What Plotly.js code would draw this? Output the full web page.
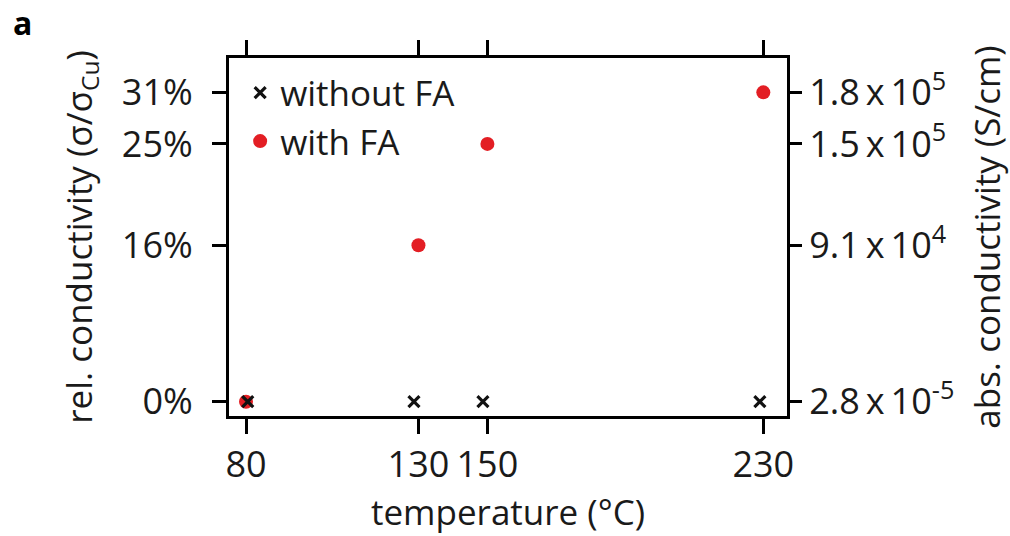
<!DOCTYPE html>
<html>
<head>
<meta charset="utf-8">
<script src="https://cdn.plot.ly/plotly-3.0.1.min.js"></script>
<style>html,body{margin:0;padding:0;background:#fff;}#chart{width:1010px;height:536px;}</style>
</head>
<body>
<div id="chart"></div>
<script>
// temperatures (°C)
const tempWithoutFA = [80.5, 128.7, 148.7, 229.0];
const tempWithFA = [80, 130, 150, 230];
// absolute conductivity (S/cm)
const condWithoutFA = [2.8e-5, 2.8e-5, 2.8e-5, 2.8e-5];
const condWithFA = [2.8e-5, 9.1e4, 1.5e5, 1.8e5];
// tick values and labels
const xTicks = [80, 130, 150, 230];
const yTickVals = [2.8e-5, 9.1e4, 1.5e5, 1.8e5];
const relLabels = ['0%', '16%', '25%', '31%'];
const absLabels = ['2.8\u2009x\u200910<sup>-5</sup>', '9.1\u2009x\u200910<sup>4</sup>', '1.5\u2009x\u200910<sup>5</sup>', '1.8\u2009x\u200910<sup>5</sup>'];

const FONT = 'Open Sans, Noto Sans, sans-serif';
const RED = '#e31e24';
const INK = '#1a1a1a';

const traces = [
  {
    x: tempWithFA, y: condWithFA, type: 'scatter', mode: 'markers', name: 'with FA',
    marker: {symbol: 'circle', size: 14, color: RED, line: {width: 0}},
    legendrank: 2
  },
  {
    x: tempWithoutFA, y: condWithoutFA, type: 'scatter', mode: 'markers', name: 'without FA',
    marker: {symbol: 'x-thin', size: 11, color: '#111', line: {width: 3.2, color: '#111'}},
    legendrank: 1
  },
  {
    x: tempWithFA, y: condWithFA, type: 'scatter', mode: 'markers', yaxis: 'y2',
    showlegend: false, hoverinfo: 'skip', marker: {opacity: 0}
  }
];

const yRange = [-8330, 200000];

const layout = {
  width: 1010, height: 536,
  margin: {l: 229, r: 223, t: 58, b: 120, pad: 0},
  paper_bgcolor: '#fff', plot_bgcolor: '#fff',
  font: {family: FONT, size: 35, color: INK},
  showlegend: true,
  legend: {x: 0.02, xanchor: 'left', y: 0.985, yanchor: 'top', bgcolor: 'rgba(0,0,0,0)',
           font: {family: FONT, size: 35, color: INK}, tracegroupgap: 0},
  xaxis: {
    range: [75.07, 236.87], tickvals: xTicks, ticktext: xTicks.map(String),
    showgrid: false, zeroline: false, showline: true, linewidth: 3, linecolor: '#000',
    mirror: 'allticks', ticks: 'outside', ticklen: 15, tickwidth: 3, tickcolor: '#000',
    tickfont: {family: FONT, size: 36, color: INK},
    title: {text: 'temperature (\u00b0C)', font: {family: FONT, size: 35, color: INK}, standoff: 10}
  },
  yaxis: {
    range: yRange, tickvals: yTickVals, ticktext: relLabels,
    showgrid: false, zeroline: false, showline: true, linewidth: 3, linecolor: '#000',
    mirror: true, ticks: 'outside', ticklen: 14, tickwidth: 3, tickcolor: '#000',
    ticklabelstandoff: 12,
    tickfont: {family: FONT, size: 36, color: INK},
    title: {text: 'rel. conductivity (\u03c3/\u03c3<sub>Cu</sub>)', font: {family: FONT, size: 35, color: INK}, standoff: 19}
  },
  yaxis2: {
    range: yRange, overlaying: 'y', side: 'right', anchor: 'x',
    tickvals: yTickVals, ticktext: absLabels,
    showgrid: false, zeroline: false, showline: false,
    ticks: 'outside', ticklen: 14, tickwidth: 3, tickcolor: '#000',
    tickfont: {family: FONT, size: 36, color: INK},
    title: {text: 'abs. conductivity (S/cm)', font: {family: FONT, size: 35, color: INK}, standoff: 24}
  },
  annotations: [
    {text: '<b>a</b>', xref: 'paper', yref: 'paper', x: -0.39, y: 1.165, xanchor: 'left', yanchor: 'top',
     showarrow: false, font: {family: FONT, size: 32, color: '#000'}}
  ]
};

Plotly.newPlot('chart', traces, layout, {displayModeBar: false, staticPlot: true});
</script>
</body>
</html>
